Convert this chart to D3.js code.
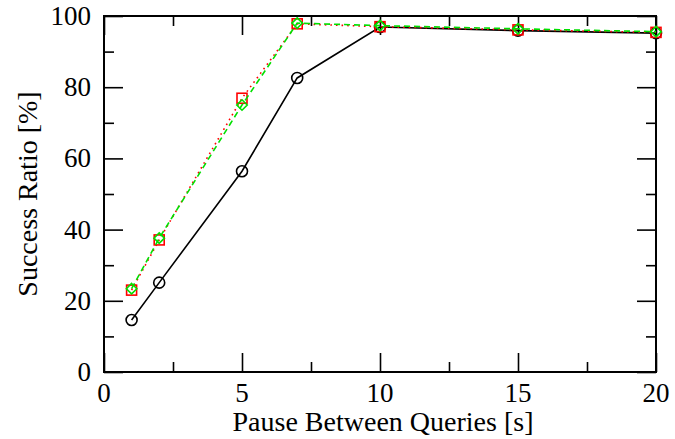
<!DOCTYPE html>
<html>
<head>
<meta charset="utf-8">
<script src="https://cdn.jsdelivr.net/npm/d3@7"></script>
<style>
  body { margin: 0; background: #fff; }
</style>
</head>
<body>
<div id="chart"></div>
<script>
// pause between queries [s]
var pauses = [1, 2, 5, 7, 10, 15, 20];
// success ratio [%] per series
var seriesBlack = [14.6, 25.1, 56.4, 82.6, 96.9, 95.9, 95.2];
var seriesRed = [23.0, 37.1, 76.9, 97.8, 97.0, 96.1, 95.4];
var seriesGreen = [23.4, 37.6, 75.0, 98.0, 97.3, 96.4, 95.6];
var xTicks = [0, 5, 10, 15, 20];
var yTicks = [0, 20, 40, 60, 80, 100];

var serif = "'Liberation Serif', 'Times New Roman', Times, Tinos, 'DejaVu Serif', serif";

function init(){
    var w = 675, h = 439;
    var left = 104, right = 656, top = 16, bottom = 372;

    var svg = d3.select("#chart")
                .append("svg")
                .attr("width", w)
                .attr("height", h)
                .attr("font-family", serif);

    var x = d3.scaleLinear().domain([0, 20]).range([left, right]);
    var y = d3.scaleLinear().domain([0, 100]).range([bottom, top]);

    var majorLen = 19, minorLen = 10;
    var xMinor = d3.range(2.5, 20, 5);
    var yMinor = d3.range(10, 100, 20);

    // axes with inward ticks on all four sides
    function tickAxis(axisFn, scale, major, minor, pos){
        var g1 = svg.append("g").attr("transform", pos)
            .call(axisFn(scale).tickValues(major).tickSizeInner(-majorLen).tickSizeOuter(0).tickFormat(""));
        var g2 = svg.append("g").attr("transform", pos)
            .call(axisFn(scale).tickValues(minor).tickSizeInner(-minorLen).tickSizeOuter(0).tickFormat(""));
        [g1, g2].forEach(function(g){
            g.select(".domain").remove();
            g.selectAll("line").attr("stroke", "#000").attr("stroke-width", 1.6);
        });
    }
    tickAxis(d3.axisBottom, x, xTicks, xMinor, "translate(0," + bottom + ")");
    tickAxis(d3.axisTop, x, xTicks, xMinor, "translate(0," + top + ")");
    tickAxis(d3.axisLeft, y, yTicks, yMinor, "translate(" + left + ",0)");
    tickAxis(d3.axisRight, y, yTicks, yMinor, "translate(" + right + ",0)");

    svg.append("rect")
        .attr("x", left)
        .attr("y", top)
        .attr("width", right - left)
        .attr("height", bottom - top)
        .attr("fill", "none")
        .attr("stroke", "#000")
        .attr("stroke-width", 2);

    // tick labels
    svg.selectAll("text.xt")
        .data(xTicks)
        .enter()
        .append("text")
        .attr("class", "xt")
        .attr("x", function(d){ return x(d); })
        .attr("y", 402)
        .attr("text-anchor", "middle")
        .attr("font-family", serif)
        .attr("font-size", 27)
        .text(function(d){ return d; });

    svg.selectAll("text.yt")
        .data(yTicks)
        .enter()
        .append("text")
        .attr("class", "yt")
        .attr("x", 91)
        .attr("y", function(d){ return y(d) + 9; })
        .attr("text-anchor", "end")
        .attr("font-family", serif)
        .attr("font-size", 27)
        .text(function(d){ return d; });

    svg.append("text")
        .attr("x", (left + right) / 2 + 3)
        .attr("y", 431)
        .attr("text-anchor", "middle")
        .attr("font-family", serif)
        .attr("font-size", 28)
        .text("Pause Between Queries [s]");

    svg.append("text")
        .attr("transform", "translate(37," + ((top + bottom) / 2) + ") rotate(-90)")
        .attr("text-anchor", "middle")
        .attr("font-family", serif)
        .attr("font-size", 28)
        .text("Success Ratio [%]");

    var line = d3.line()
                 .x(function(d){ return x(d[0]); })
                 .y(function(d){ return y(d[1]); });

    function pts(vals){
        return pauses.map(function(p, i){ return [p, vals[i]]; });
    }

    // black solid with circles
    svg.append("path")
        .attr("d", line(pts(seriesBlack)))
        .attr("fill", "none")
        .attr("stroke", "#000")
        .attr("stroke-width", 1.6);
    svg.selectAll("circle.b")
        .data(pts(seriesBlack))
        .enter()
        .append("circle")
        .attr("class", "b")
        .attr("cx", function(d){ return x(d[0]); })
        .attr("cy", function(d){ return y(d[1]); })
        .attr("r", 5.5)
        .attr("fill", "none")
        .attr("stroke", "#000")
        .attr("stroke-width", 1.6);

    // red dotted with squares
    svg.append("path")
        .attr("d", line(pts(seriesRed)))
        .attr("fill", "none")
        .attr("stroke", "#ff0000")
        .attr("stroke-width", 1.6)
        .attr("stroke-dasharray", "1.6,4");
    svg.selectAll("rect.r")
        .data(pts(seriesRed))
        .enter()
        .append("rect")
        .attr("class", "r")
        .attr("x", function(d){ return x(d[0]) - 5; })
        .attr("y", function(d){ return y(d[1]) - 5; })
        .attr("width", 10)
        .attr("height", 10)
        .attr("fill", "none")
        .attr("stroke", "#ff0000")
        .attr("stroke-width", 1.6);

    // green dashed with diamonds
    svg.append("path")
        .attr("d", line(pts(seriesGreen)))
        .attr("fill", "none")
        .attr("stroke", "#00e000")
        .attr("stroke-width", 1.6)
        .attr("stroke-dasharray", "6,4");
    var diamond = d3.symbol().type(d3.symbolDiamond2).size(70);
    svg.selectAll("path.g")
        .data(pts(seriesGreen))
        .enter()
        .append("path")
        .attr("class", "g")
        .attr("d", diamond)
        .attr("transform", function(d){ return "translate(" + x(d[0]) + "," + y(d[1]) + ")"; })
        .attr("fill", "none")
        .attr("stroke", "#00e000")
        .attr("stroke-width", 1.6);
}

window.onload = init;
</script>
</body>
</html>
